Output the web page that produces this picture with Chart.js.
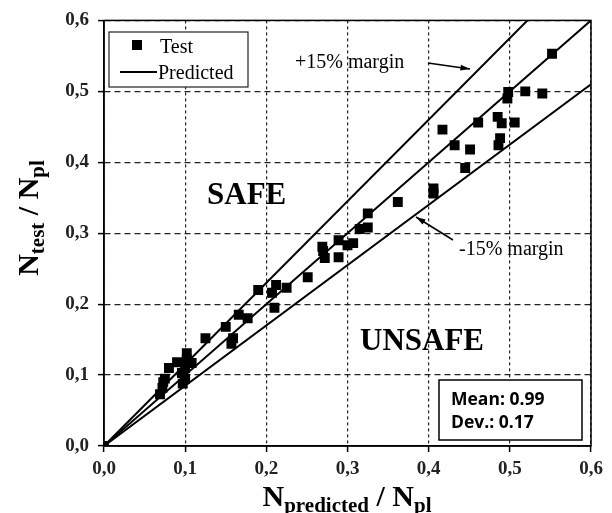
<!DOCTYPE html>
<html>
<head>
<meta charset="utf-8">
<script src="https://cdn.jsdelivr.net/npm/chart.js@4/dist/chart.umd.min.js"></script>
<style>
    html, body { margin: 0; padding: 0; background: #ffffff; }
    .wrap { position: relative; width: 612px; height: 513px; }
</style>
</head>
<body>
<div class="wrap"><canvas id="chart" width="612" height="513"></canvas></div>
<script>
// test results: N_predicted / N_pl  vs  N_test / N_pl
const predicted = [0, 0.069, 0.072, 0.073, 0.075, 0.08, 0.09, 0.096, 0.1, 0.1, 0.102, 0.102, 0.097, 0.108,
    0.125, 0.15, 0.157, 0.159, 0.166, 0.177, 0.19, 0.207, 0.212, 0.21, 0.225, 0.251, 0.269, 0.272, 0.27,
    0.289, 0.289, 0.3, 0.307, 0.315, 0.325, 0.325, 0.362, 0.406, 0.406, 0.417, 0.432, 0.445, 0.451, 0.461,
    0.485, 0.486, 0.488, 0.49, 0.497, 0.498, 0.506, 0.519, 0.54, 0.552];
const tested = [0, 0.073, 0.082, 0.09, 0.095, 0.11, 0.118, 0.103, 0.095, 0.11, 0.122, 0.131, 0.088, 0.117,
    0.152, 0.168, 0.144, 0.152, 0.185, 0.18, 0.22, 0.216, 0.227, 0.195, 0.223, 0.238, 0.281, 0.265, 0.275,
    0.29, 0.266, 0.283, 0.286, 0.306, 0.308, 0.328, 0.344, 0.356, 0.363, 0.446, 0.424, 0.392, 0.418, 0.456,
    0.464, 0.424, 0.434, 0.455, 0.49, 0.499, 0.456, 0.5, 0.497, 0.553];

// reference lines (end points)
const predLine = [{x: 0, y: 0}, {x: 0.6, y: 0.6}];
const upperLine = [{x: 0, y: 0}, {x: 0.6, y: 0.69}];
const lowerLine = [{x: 0, y: 0}, {x: 0.6, y: 0.51}];

const xTickLabels = ['0,0', '0,1', '0,2', '0,3', '0,4', '0,5', '0,6'];
const yTickLabels = ['0,0', '0,1', '0,2', '0,3', '0,4', '0,5', '0,6'];

const statLines = ['Mean: 0.99', 'Dev.: 0.17'];

const points = predicted.map(function(p, i) {
    return {x: p, y: tested[i]};
});

// draws text made of pieces [text, font, yShift]
function drawParts(ctx, parts, x, y, align) {
    let total = 0;
    parts.forEach(function(p) {
        ctx.font = p[1];
        total += ctx.measureText(p[0]).width;
    });
    let cx = align == 'center' ? x - total / 2 : x;
    ctx.textAlign = 'left';
    ctx.textBaseline = 'alphabetic';
    parts.forEach(function(p) {
        ctx.font = p[1];
        ctx.fillText(p[0], cx, y + p[2]);
        cx += ctx.measureText(p[0]).width;
    });
}

function arrow(ctx, x1, y1, x2, y2) {
    ctx.beginPath();
    ctx.moveTo(x1, y1);
    ctx.lineTo(x2, y2);
    ctx.stroke();
    const a = Math.atan2(y2 - y1, x2 - x1);
    ctx.beginPath();
    ctx.moveTo(x2, y2);
    ctx.lineTo(x2 - 10 * Math.cos(a - 0.3), y2 - 10 * Math.sin(a - 0.3));
    ctx.lineTo(x2 - 10 * Math.cos(a + 0.3), y2 - 10 * Math.sin(a + 0.3));
    ctx.closePath();
    ctx.fill();
}

const extras = {
    id: 'extras',
    afterDraw: function(chart) {
        const ctx = chart.ctx;
        const a = chart.chartArea;
        const serif = '"Liberation Serif", "DejaVu Serif", serif';
        ctx.save();
        ctx.fillStyle = '#000';
        ctx.strokeStyle = '#000';

        // frame
        ctx.lineWidth = 1.5;
        ctx.strokeRect(a.left, a.top, a.right - a.left, a.bottom - a.top);

        // legend
        ctx.fillStyle = '#fff';
        ctx.fillRect(109, 32, 139, 55);
        ctx.lineWidth = 1.2;
        ctx.strokeStyle = '#222';
        ctx.strokeRect(109, 32, 139, 55);
        ctx.fillStyle = '#000';
        ctx.strokeStyle = '#000';
        ctx.fillRect(132, 40, 10, 10);
        ctx.lineWidth = 2;
        ctx.beginPath();
        ctx.moveTo(120, 72);
        ctx.lineTo(157, 72);
        ctx.stroke();
        ctx.font = '20px ' + serif;
        ctx.textAlign = 'left';
        ctx.textBaseline = 'alphabetic';
        ctx.fillText(chart.data.datasets[0].label, 160, 53);
        ctx.fillText(chart.data.datasets[1].label, 158, 79);

        // margin notes
        ctx.font = '20px ' + serif;
        ctx.fillText('+15% margin', 295, 68);
        ctx.fillText('-15% margin', 459, 255);
        ctx.lineWidth = 1.5;
        arrow(ctx, 428, 63, 470, 69);
        arrow(ctx, 453, 240, 416, 217);

        // region labels
        ctx.font = 'bold 31px ' + serif;
        ctx.fillText('SAFE', 207, 204);
        ctx.fillText('UNSAFE', 360, 350);

        // stats box
        ctx.fillStyle = '#fff';
        ctx.fillRect(439, 380, 143, 60);
        ctx.lineWidth = 1.5;
        ctx.strokeRect(439, 380, 143, 60);
        ctx.fillStyle = '#000';
        ctx.font = 'bold 17.5px "Open Sans", "DejaVu Sans", sans-serif';
        ctx.fillText(statLines[0], 451, 405);
        ctx.fillText(statLines[1], 451, 428);

        // axis titles
        const big = 'bold 30px ' + serif;
        const small = 'bold 21px ' + serif;
        drawParts(ctx, [['N', big, 0], ['predicted', small, 6], [' / N', big, 0], ['pl', small, 6]], 347, 506, 'center');
        ctx.translate(38, 218);
        ctx.rotate(-Math.PI / 2);
        drawParts(ctx, [['N', big, 0], ['test', small, 6], [' / N', big, 0], ['pl', small, 6]], 0, 0, 'center');
        ctx.restore();
    }
};

const ctx = document.getElementById('chart');
const chart = new Chart(ctx, {
    type: 'scatter',
    data: {
        datasets: [{
            label: 'Test',
            data: points,
            pointStyle: 'rect',
            pointRadius: 7,
            pointHoverRadius: 7,
            backgroundColor: '#000',
            borderColor: '#000',
            borderWidth: 0,
            order: 0
        }, {
            label: 'Predicted',
            data: predLine,
            showLine: true,
            pointRadius: 0,
            borderColor: '#000',
            borderWidth: 2,
            order: 1
        }, {
            label: '+15% margin',
            data: upperLine,
            showLine: true,
            pointRadius: 0,
            borderColor: '#000',
            borderWidth: 2,
            order: 1
        }, {
            label: '-15% margin',
            data: lowerLine,
            showLine: true,
            pointRadius: 0,
            borderColor: '#000',
            borderWidth: 2,
            order: 1
        }]
    },
    options: {
        responsive: false,
        animation: false,
        layout: {
            padding: {left: 0, top: 20, right: 21, bottom: 0}
        },
        plugins: {
            legend: {display: false},
            tooltip: {enabled: false}
        },
        scales: {
            x: {
                type: 'linear',
                min: 0,
                max: 0.6,
                ticks: {
                    stepSize: 0.1,
                    color: '#222',
                    padding: 6,
                    font: {family: '"Liberation Serif", serif', size: 19, weight: 'bold'},
                    callback: function(v, i) { return xTickLabels[i]; }
                },
                grid: {
                    color: '#222',
                    lineWidth: 1.2,
                    tickLength: 6,
                    tickColor: '#000',
                    tickBorderDash: [],
                    tickWidth: 1.5
                },
                border: {display: true, color: '#000', width: 1.5, dash: [3, 3]},
                afterFit: function(scale) { scale.height = 67; }
            },
            y: {
                type: 'linear',
                min: 0,
                max: 0.6,
                ticks: {
                    stepSize: 0.1,
                    color: '#222',
                    padding: 9,
                    font: {family: '"Liberation Serif", serif', size: 19, weight: 'bold'},
                    callback: function(v, i) { return yTickLabels[i]; }
                },
                grid: {
                    color: '#222',
                    lineWidth: 1.2,
                    tickLength: 6,
                    tickColor: '#000',
                    tickBorderDash: [],
                    tickWidth: 1.5
                },
                border: {display: true, color: '#000', width: 1.5, dash: [6, 4]},
                afterFit: function(scale) { scale.width = 104; }
            }
        }
    },
    plugins: [extras]
});
</script>
</body>
</html>
